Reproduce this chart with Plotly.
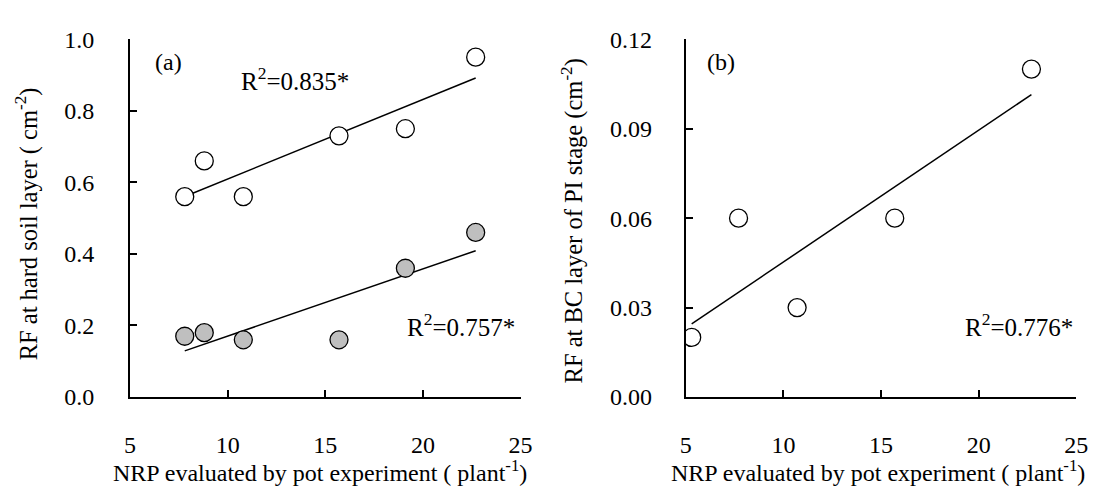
import numpy as np
import plotly.graph_objects as go

# Panel (a)
nrp_a = [7.8, 8.8, 10.8, 15.7, 19.1, 22.7]
rf_open_a = [0.56, 0.66, 0.56, 0.73, 0.75, 0.95]
rf_fill_a = [0.17, 0.18, 0.16, 0.16, 0.36, 0.46]
# Panel (b)
nrp_b = [5.3, 7.7, 10.7, 15.7, 22.7]
rf_b = [0.02, 0.06, 0.03, 0.06, 0.11]

FONT = "Liberation Serif"

def fit(x, y):
    x = np.array(x, float); y = np.array(y, float)
    k, b = np.polyfit(x, y, 1)
    xs = np.array([x.min(), x.max()])
    return xs, k * xs + b

fig = go.Figure()
line_style = dict(color="black", width=1.5)
open_marker = dict(symbol="circle", size=18, color="white", line=dict(color="black", width=1.3))
fill_marker = dict(symbol="circle", size=18, color="#bfbfbf", line=dict(color="black", width=1.3))

xs, ys = fit(nrp_a, rf_open_a)
fig.add_trace(go.Scatter(x=xs, y=ys, mode="lines", line=line_style, xaxis="x", yaxis="y"))
xs, ys = fit(nrp_a, rf_fill_a)
fig.add_trace(go.Scatter(x=xs, y=ys, mode="lines", line=line_style, xaxis="x", yaxis="y"))
fig.add_trace(go.Scatter(x=nrp_a, y=rf_open_a, mode="markers", marker=open_marker, xaxis="x", yaxis="y"))
fig.add_trace(go.Scatter(x=nrp_a, y=rf_fill_a, mode="markers", marker=fill_marker, xaxis="x", yaxis="y"))

xs, ys = fit(nrp_b, rf_b)
fig.add_trace(go.Scatter(x=xs, y=ys, mode="lines", line=line_style, xaxis="x2", yaxis="y2"))
fig.add_trace(go.Scatter(x=nrp_b, y=rf_b, mode="markers", marker=open_marker, xaxis="x2", yaxis="y2"))

W, H = 1100, 486
ydom = [1 - 397.3 / H, 1 - 19.3 / H]
axis_common = dict(showline=True, linecolor="black", linewidth=2, ticks="inside",
                   ticklen=7, tickwidth=1.5, tickcolor="black", showgrid=False,
                   zeroline=False, tickfont=dict(family=FONT, size=24, color="black"))

fig.update_layout(
    width=W, height=H, showlegend=False,
    margin=dict(l=0, r=0, t=0, b=0),
    paper_bgcolor="white", plot_bgcolor="white",
    font=dict(family=FONT, size=24, color="black"),
    xaxis=dict(domain=[118 / W, 515 / W], range=[5, 25], dtick=5, anchor="y",
               ticklabelstandoff=25, **axis_common),
    yaxis=dict(domain=ydom, range=[0, 1], dtick=0.2, tickformat=".1f", anchor="x",
               ticklabelstandoff=29, **axis_common),
    xaxis2=dict(domain=[683 / W, 1080 / W], range=[5, 25], dtick=5, anchor="y2",
                ticklabelstandoff=25, **axis_common),
    yaxis2=dict(domain=ydom, range=[0, 0.12], dtick=0.03, tickformat=".2f", anchor="x2",
                ticklabelstandoff=27, **axis_common),
)

ann = []
def txt(text, x, y, xref, yref, xanchor="left", yanchor="middle", angle=0, size=25):
    ann.append(dict(text=text, x=x, y=y, xref=xref, yref=yref, xanchor=xanchor,
                    yanchor=yanchor, showarrow=False, textangle=angle,
                    font=dict(family=FONT, size=size, color="black")))

txt("(a)", 6.2, 0.936, "x", "y", size=24)
txt("R<sup>2</sup>=0.835*", 10.6, 0.888, "x", "y")
txt("R<sup>2</sup>=0.757*", 24.8, 0.20, "x", "y", xanchor="right")
txt("(b)", 6.0, 0.1123, "x2", "y2", size=24)
txt("R<sup>2</sup>=0.776*", 24.95, 0.024, "x2", "y2", xanchor="right")

txt("NRP evaluated by pot experiment ( plant<sup>-1</sup>)", 311 / W, 1 - 475 / H, "paper", "paper", xanchor="center", size=24)
txt("NRP evaluated by pot experiment ( plant<sup>-1</sup>)", 878 / W, 1 - 475 / H, "paper", "paper", xanchor="center", size=24)
txt("RF at hard soil layer ( cm<sup>-2</sup>)", 13 / W, 1 - 214 / H, "paper", "paper", xanchor="center", angle=-90, size=24.5)
txt("RF at BC layer of PI stage (cm<sup>-2</sup>)", 568 / W, 1 - 211 / H, "paper", "paper", xanchor="center", angle=-90, size=24.5)

fig.update_layout(annotations=ann)
fig.write_html("out.html")
